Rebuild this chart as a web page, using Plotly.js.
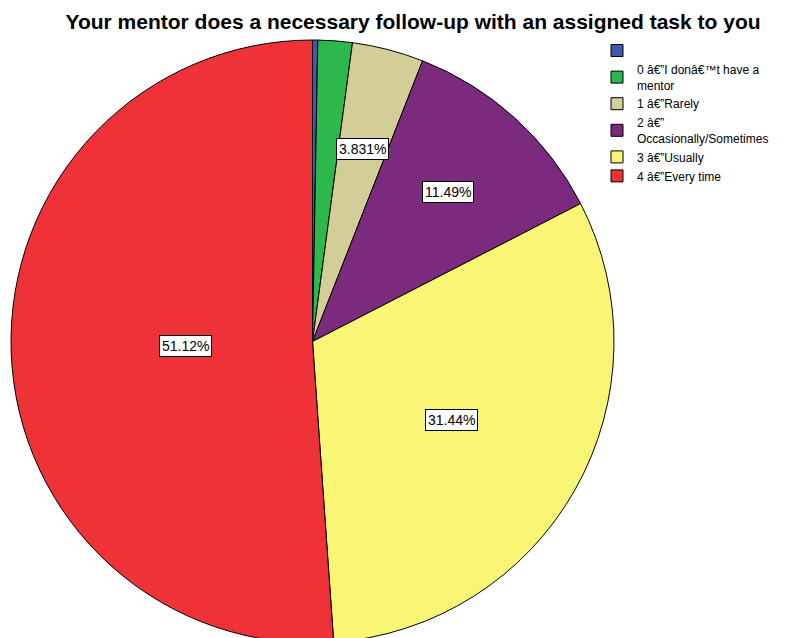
<!DOCTYPE html>
<html>
<head>
<meta charset="utf-8">
<script src="https://cdn.plot.ly/plotly-3.0.1.min.js"></script>
<style>
html,body{margin:0;padding:0;overflow:hidden;background:#fff;width:789px;height:638px;}
#chart{width:789px;height:660px;}
</style>
</head>
<body>
<div id="chart"></div>
<script>
// Data
const categories = [
  " ",
  "0 â€\u201DI donâ€\u2122t have a<br>mentor",
  "1 â€\u201DRarely",
  "2 â€\u201D<br>Occasionally/Sometimes",
  "3 â€\u201DUsually",
  "4 â€\u201DEvery time"
];
const percents = [0.28, 1.839, 3.831, 11.49, 31.44, 51.12];
const shownLabels = ["", "", "3.831%", "11.49%", "31.44%", "51.12%"];

// Styles
const colors = ["#3E58AC", "#2DB84B", "#D3CE97", "#7B2A7E", "#FAF675", "#EF3238"];
const labelRadius = [0, 0, 0.66, 0.67, 0.53, 0.42];

const W = 789, H = 660;
const domX = [11 / W, 614 / W];
const domY = [1 - 643 / H, 1 - 40 / H];

// label positions derived from data
const total = percents.reduce((a, b) => a + b, 0);
const cx = (domX[0] + domX[1]) / 2 * W;
const cy = (1 - (domY[0] + domY[1]) / 2) * H;
const r = Math.min((domX[1] - domX[0]) * W, (domY[1] - domY[0]) * H) / 2;
const annotations = [];
let cum = 0;
percents.forEach((v, i) => {
  const a = 2 * Math.PI * (cum + v / 2) / total;
  cum += v;
  if (!shownLabels[i]) return;
  const px = cx + Math.sin(a) * labelRadius[i] * r;
  const py = cy - Math.cos(a) * labelRadius[i] * r;
  annotations.push({
    x: px / W, y: 1 - py / H, xref: 'paper', yref: 'paper',
    xanchor: 'center', yanchor: 'middle',
    text: shownLabels[i], showarrow: false,
    font: {family: 'Liberation Sans, Arial, sans-serif', size: 14, color: '#000'},
    bgcolor: '#fff', bordercolor: '#000', borderwidth: 1, borderpad: 2
  });
});

const trace = {
  type: 'pie',
  labels: categories,
  values: percents,
  sort: false,
  direction: 'clockwise',
  rotation: 0,
  textinfo: 'none',
  hoverinfo: 'label+percent',
  marker: {colors: colors, line: {color: '#000', width: 1}},
  domain: {x: domX, y: domY}
};

const layout = {
  width: W, height: H,
  margin: {l: 0, r: 0, t: 0, b: 0},
  paper_bgcolor: '#fff',
  title: {
    text: '<b>Your mentor does a necessary follow-up with an assigned task to you</b>',
    font: {family: 'Liberation Sans, Arial, sans-serif', size: 21, color: '#000'},
    x: 413 / W, xanchor: 'center', y: 1 - 22 / H, yanchor: 'middle'
  },
  showlegend: true,
  legend: {
    x: 597 / W, xanchor: 'left', y: 1 - 36 / H, yanchor: 'top',
    font: {family: 'Liberation Sans, Arial, sans-serif', size: 12, color: '#000'},
    bgcolor: 'rgba(0,0,0,0)', borderwidth: 0, tracegroupgap: 0
  },
  annotations: annotations
};

Plotly.newPlot('chart', [trace], layout, {displayModeBar: false, staticPlot: true});
</script>
</body>
</html>
